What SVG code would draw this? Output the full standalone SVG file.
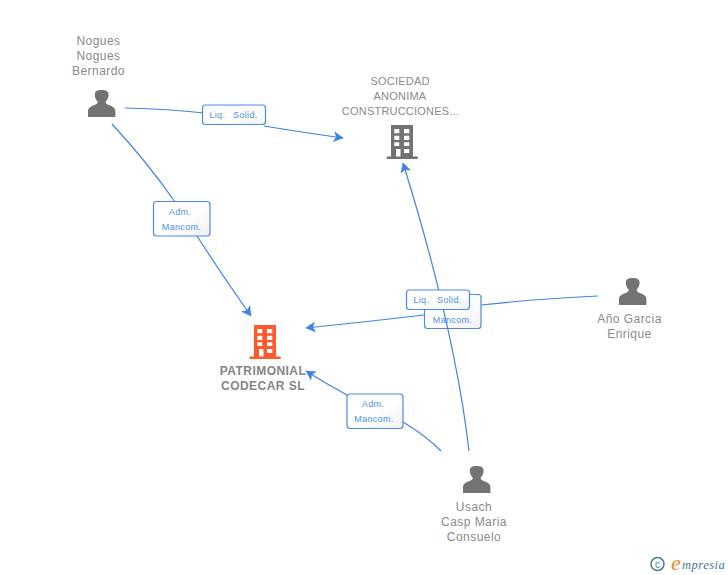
<svg xmlns="http://www.w3.org/2000/svg" width="728" height="575" viewBox="0 0 728 575">
<style>
text{font-family:"Liberation Sans",Arial,sans-serif}
.n{font-size:12px;fill:#8a8a8a;text-anchor:middle;letter-spacing:.45px}
.b{font-size:12px;fill:#858585;text-anchor:middle;font-weight:bold;letter-spacing:.45px}
.s{font-size:11px;fill:#8a8a8a;text-anchor:middle;letter-spacing:.22px}
.l{font-size:9px;fill:#4f8fe8;text-anchor:middle;letter-spacing:.32px}
.e{fill:none;stroke:#3f84e5;stroke-width:1.2}
.box{fill:url(#g);stroke:#4a8be6;stroke-width:1.2}
</style>
<defs>
<linearGradient id="g" x1="0" y1="0" x2="1" y2="1"><stop offset="0" stop-color="#fff"/><stop offset=".5" stop-color="#fff"/><stop offset="1" stop-color="#f1f1f1"/></linearGradient>
<marker id="a" markerUnits="userSpaceOnUse" markerWidth="12" markerHeight="12" refX="9.500" refY="5.500" orient="auto"><path d="M0 0L10 5.500L0 11L2.500 5.500Z" fill="#3f84e5"/></marker>
<path id="p" d="M88 117v-6c0-3 2.500-4.200 6-5.700 2.800-1.200 3.800-2 3.800-3.600-1.900-1.700-3-4.200-3-6.900 0-3.500 2.500-4.800 6.900-4.800s6.900 1.300 6.900 4.800c0 2.700-1.100 5.200-3 6.900 0 1.600 1 2.400 3.800 3.600 3.500 1.500 6 2.700 6 5.700v6z" fill="#737373"/>
<path id="h" fill-rule="evenodd" d="M391 125h22v31.500h4.700v2.500h-31v-2.500h4.300zM394.300 129v4.300h5v-4.300zM404 129v4.300h5.300v-4.300zM394.300 135.700v4.300h5v-4.300zM404 135.700v4.300h5.300v-4.300zM394.300 142.300v3.700h5v-3.700zM404 142.300v3.700h5.300v-3.700zM396 149v7.500h4.500v-7.500zM404 149v4h5.300v-4z"/>
</defs>
<g id="connectors">
<path class="e" d="M125 108Q170 109 204 113"/>
<path class="e" d="M264 126Q300 132 343 138" marker-end="url(#a)"/>
<path class="e" d="M112 124Q148 163 175 202"/>
<path class="e" d="M197 236Q222 275 251 316" marker-end="url(#a)"/>
<path class="e" d="M598 296Q535 299 481 305"/>
<path class="e" d="M424 315Q365 322 306 328" marker-end="url(#a)"/>
<g><rect class="box" x="424.500" y="294.500" width="56.500" height="34" rx="3"/><text class="l" x="452.500" y="323">Mancom.</text></g>
<path class="e" d="M469 451Q455 330 403 163" marker-end="url(#a)"/>
<path class="e" d="M441 451Q425 435 403 422"/>
<path class="e" d="M347 395Q325 383 306 371" marker-end="url(#a)"/>
<g><rect class="box" x="202.500" y="105" width="63" height="19.500" rx="3"/><text class="l" x="233.500" y="118">Liq.  <tspan dx="5">Solid.</tspan></text></g>
<g><rect class="box" x="153.500" y="201.500" width="56.500" height="34.500" rx="3"/><text class="l" x="180" y="215">Adm.</text><text class="l" x="181.500" y="230">Mancom.</text></g>
<g><rect class="box" x="406.500" y="290" width="63" height="19.500" rx="3"/><text class="l" x="437.500" y="303">Liq.  <tspan dx="5">Solid.</tspan></text></g>
<g><rect class="box" x="347" y="394" width="56" height="34.500" rx="3"/><text class="l" x="373" y="407">Adm.</text><text class="l" x="374" y="422">Mancom.</text></g>
</g>
<g id="nogues"><text class="n" x="98.500" y="45">Nogues</text><text class="n" x="98.500" y="60">Nogues</text><text class="n" x="98.500" y="75">Bernardo</text><use href="#p"/></g>
<g id="sociedad"><text class="s" x="400" y="85">SOCIEDAD</text><text class="s" x="400" y="100">ANONIMA</text><text class="s" x="400.500" y="115">CONSTRUCCIONES...</text><use href="#h" fill="#737373"/></g>
<g id="patrimonial"><use href="#h" x="-137" y="200" fill="#ff5a2b"/><text class="b" x="263" y="375">PATRIMONIAL</text><text class="b" x="263" y="390">CODECAR SL</text></g>
<g id="ano"><use href="#p" x="531" y="188"/><text class="n" x="629.500" y="323">Año Garcia</text><text class="n" x="629.500" y="338">Enrique</text></g>
<g id="usach"><use href="#p" x="375" y="376"/><text class="n" x="474" y="511">Usach</text><text class="n" x="474" y="526">Casp Maria</text><text class="n" x="474" y="541">Consuelo</text></g>
<g id="logo"><circle cx="657.500" cy="564" r="6.500" fill="none" stroke="#4a7f96" stroke-width="1.500"/><text x="657.500" y="567.500" font-size="10" fill="#4a7f96" text-anchor="middle">c</text><text x="671" y="570" font-size="22" font-style="italic" fill="#f08a1d" style="font-family:'Liberation Serif',serif">e</text><text x="682" y="569" font-size="12.500" font-style="italic" fill="#3c7a94" style="font-family:'Liberation Serif',serif;letter-spacing:.5px">mpresia</text></g>
</svg>
